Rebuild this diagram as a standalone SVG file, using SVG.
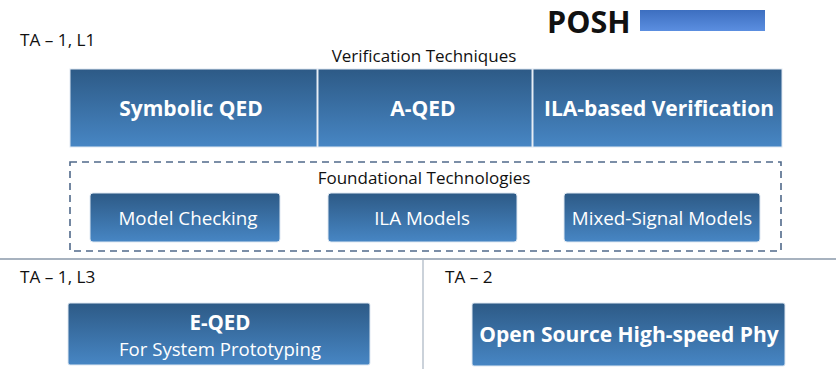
<svg xmlns="http://www.w3.org/2000/svg" width="836" height="369" viewBox="0 0 836 369">
<defs>
<linearGradient id="g" x1="0" y1="0" x2="0" y2="1">
<stop offset="0" stop-color="#2d5a86"/>
<stop offset="1" stop-color="#4786c4"/>
</linearGradient>
<linearGradient id="lg" x1="0" y1="0" x2="0" y2="1">
<stop offset="0" stop-color="#3d6fc0"/>
<stop offset="1" stop-color="#5b8ee0"/>
</linearGradient>
<style>
.box{fill:url(#g);stroke:#dfe8f2;stroke-width:1}
.t{font-family:"Open Sans",Lato,sans-serif;fill:#111}
.w{font-family:"Open Sans",Lato,sans-serif;fill:#fff;text-anchor:middle}
.b{font-weight:bold}
</style>
</defs>
<rect width="836" height="369" fill="#fff"/>
<g id="header">
<text class="t" x="20" y="46" font-size="17.2">TA – 1, L1</text>
<text class="t b" x="547" y="33" font-size="30.5">POSH</text>
<rect x="640" y="10" width="125" height="21" fill="url(#lg)"/>
<text class="t" x="424" y="62" font-size="17" text-anchor="middle">Verification Techniques</text>
</g>
<g id="verification">
<g id="symbolic-qed"><rect class="box" x="70" y="69" width="247" height="78"/><text class="w b" x="191" y="116" font-size="21">Symbolic QED</text></g>
<g id="a-qed"><rect class="box" x="318" y="69" width="214" height="78"/><text class="w b" x="423" y="116" font-size="21">A-QED</text></g>
<g id="ila-verification"><rect class="box" x="533" y="69" width="249" height="78"/><text class="w b" x="659" y="116" font-size="21">ILA-based Verification</text></g>
</g>
<g id="foundational">
<rect x="70" y="162" width="711" height="89" fill="none" stroke="#50698a" stroke-width="1.6" stroke-dasharray="7,5"/>
<text class="t" x="424" y="184" font-size="17" text-anchor="middle">Foundational Technologies</text>
<g id="model-checking"><rect class="box" x="90" y="193" width="190" height="49" rx="3"/><text class="w" x="188" y="225" font-size="18.8">Model Checking</text></g>
<g id="ila-models"><rect class="box" x="328" y="193" width="189" height="49" rx="3"/><text class="w" x="422" y="225" font-size="18.8">ILA Models</text></g>
<g id="mixed-signal"><rect class="box" x="564" y="193" width="196" height="49" rx="3"/><text class="w" x="662" y="225" font-size="18.8">Mixed-Signal Models</text></g>
</g>
<g id="connectors">
<line x1="0" y1="259" x2="836" y2="259" stroke="#8a99aa" stroke-width="1.5"/>
<line x1="423" y1="259" x2="423" y2="369" stroke="#a8b4c2" stroke-width="1.2"/>
</g>
<g id="bottom">
<text class="t" x="20" y="283" font-size="17.2">TA – 1, L3</text>
<text class="t" x="445" y="283" font-size="17.2">TA – 2</text>
<g id="e-qed"><rect class="box" x="68" y="303" width="302" height="62" rx="2"/><text class="w b" x="220" y="330" font-size="20.5">E-QED</text><text class="w" x="220" y="356" font-size="18.6">For System Prototyping</text></g>
<g id="open-source-phy"><rect class="box" x="472" y="303" width="313" height="63" rx="2"/><text class="w b" x="629" y="342" font-size="21">Open Source High-speed Phy</text></g>
</g>
</svg>
